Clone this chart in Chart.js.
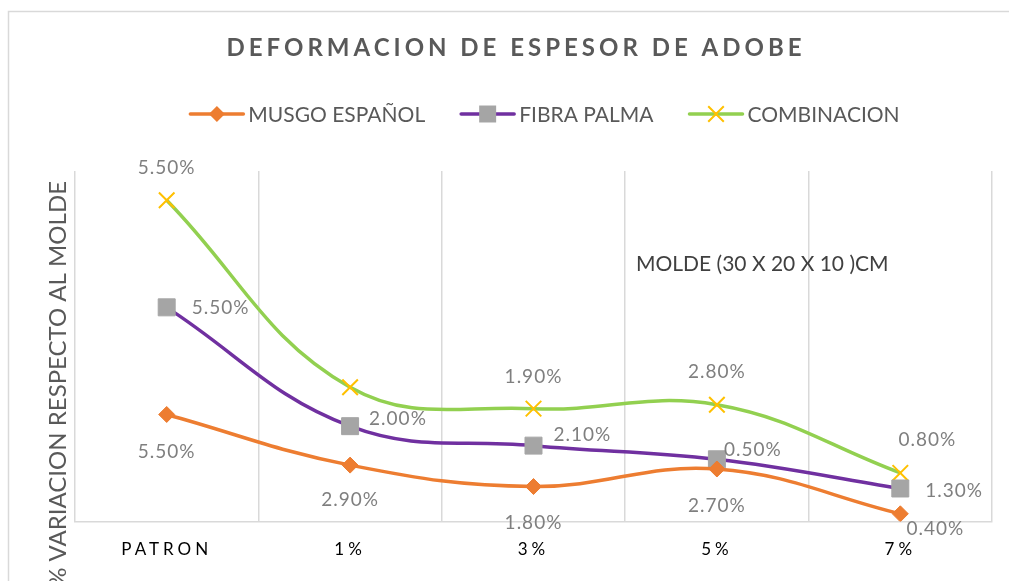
<!DOCTYPE html>
<html>
<head>
<meta charset="utf-8">
<title>Deformacion de espesor de adobe</title>
<script src="https://cdn.jsdelivr.net/npm/chart.js@4/dist/chart.umd.min.js"></script>
<style>
  html, body { margin: 0; padding: 0; background: #fff; overflow: hidden; }
  #wrap { width: 1009px; height: 581px; }
  canvas { display: block; }
</style>
</head>
<body>
<div id="wrap"><canvas id="adobeChart" width="1009" height="581"></canvas></div>
<script>
// Data (values in %, stacked like the Excel original)
const categories = ['PATRON', '1%', '3%', '5%', '7%'];
const musgoEspanol = [5.5, 2.9, 1.8, 2.7, 0.4];
const fibraPalma = [5.5, 2.0, 2.1, 0.5, 1.3];
const combinacion = [5.5, 2.0, 1.9, 2.8, 0.8];

const chartTitle = 'DEFORMACION DE ESPESOR DE ADOBE';
const yTitle = '% VARIACION RESPECTO AL MOLDE';
const note = 'MOLDE (30 X 20 X 10 )CM';

const FONT = 'Lato, "Open Sans", sans-serif';

// where each series puts its value labels (dx, dy from the point, alignment)
const labelStyle = [
  { align: 'center', offsets: [[0, 37], [0, 35], [0, 36], [0, 37], [35, 15]] },
  { align: 'left', offsets: [[25, 1], [19, -7], [20, -11], [7, -9], [25, 2]] },
  { align: 'center', offsets: [[0, -32], null, [0, -32], [0, -33], [27, -33]] }
];

// legend markers (the plot markers come from Chart.js itself)
function drawMark(ctx, style, x, y, r) {
  ctx.beginPath();
  if (style === 'rectRot') {
    ctx.moveTo(x - r, y); ctx.lineTo(x, y - r); ctx.lineTo(x + r, y); ctx.lineTo(x, y + r);
    ctx.closePath(); ctx.fill();
  } else if (style === 'rect') {
    const s = r * Math.SQRT1_2;
    ctx.fillRect(x - s, y - s, 2 * s, 2 * s);
  } else {
    const s = r * Math.SQRT1_2;
    ctx.moveTo(x - s, y - s); ctx.lineTo(x + s, y + s);
    ctx.moveTo(x + s, y - s); ctx.lineTo(x - s, y + s);
    ctx.stroke();
  }
}

const extras = {
  id: 'extras',
  beforeDraw(chart) {
    const ctx = chart.ctx;
    ctx.save();
    ctx.fillStyle = '#fff';
    ctx.fillRect(0, 0, chart.width, chart.height);
    // outer chart border, cut off at the right and bottom like the reference
    ctx.strokeStyle = '#d9d9d9';
    ctx.lineWidth = 1.5;
    ctx.beginPath();
    ctx.moveTo(8.5, chart.height);
    ctx.lineTo(8.5, 11.5);
    ctx.lineTo(chart.width, 11.5);
    ctx.stroke();
    ctx.restore();
  },
  afterDatasetsDraw(chart) {
    // x tick labels are drawn in a later layer; give them Excel-like spacing
    chart.ctx.letterSpacing = '4px';
  },
  afterDraw(chart) {
    const ctx = chart.ctx;
    ctx.letterSpacing = '0px';
    ctx.save();

    // title
    ctx.font = 'bold 24px ' + FONT;
    ctx.fillStyle = '#595959';
    ctx.letterSpacing = '4px';
    ctx.textBaseline = 'middle';
    ctx.textAlign = 'left';
    let w = ctx.measureText(chartTitle).width;
    ctx.fillText(chartTitle, 514 - w / 2 + 2, 48);
    ctx.letterSpacing = '0px';

    // legend
    const items = chart.data.datasets;
    ctx.font = '21px ' + FONT;
    const lineW = 53, gap = 5, itemGap = 36;
    let total = 0;
    items.forEach((ds, i) => {
      total += lineW + gap + ctx.measureText(ds.label).width + (i ? itemGap : 0);
    });
    let x = 545 - total / 2;
    const ly = 114;
    items.forEach(ds => {
      ctx.strokeStyle = ds.borderColor;
      ctx.lineWidth = ds.borderWidth;
      ctx.lineCap = 'round';
      ctx.beginPath();
      ctx.moveTo(x, ly);
      ctx.lineTo(x + lineW, ly);
      ctx.stroke();
      ctx.lineCap = 'butt';
      ctx.fillStyle = ds.pointBackgroundColor;
      ctx.strokeStyle = ds.pointBorderColor;
      ctx.lineWidth = ds.pointBorderWidth;
      drawMark(ctx, ds.pointStyle, x + lineW / 2, ly, ds.pointRadius);
      ctx.fillStyle = '#595959';
      ctx.textAlign = 'left';
      ctx.fillText(ds.label, x + lineW + gap, ly + 1);
      x += lineW + gap + ctx.measureText(ds.label).width + itemGap;
    });

    // value labels
    ctx.font = '19px ' + FONT;
    ctx.letterSpacing = '1px';
    ctx.fillStyle = '#7f7f7f';
    items.forEach((ds, di) => {
      const meta = chart.getDatasetMeta(di);
      const st = labelStyle[di];
      meta.data.forEach((pt, i) => {
        const off = st.offsets[i];
        if (!off) return;
        ctx.textAlign = st.align;
        ctx.fillText(ds.data[i].toFixed(2) + '%', pt.x + off[0], pt.y + off[1]);
      });
    });
    ctx.letterSpacing = '0px';

    // note inside the plot
    ctx.font = '21px ' + FONT;
    ctx.fillStyle = '#404040';
    ctx.textAlign = 'left';
    ctx.fillText(note, 636, 264);

    // y axis title, anchored at its top end
    ctx.translate(58, 181);
    ctx.rotate(-Math.PI / 2);
    ctx.font = '24px ' + FONT;
    ctx.fillStyle = '#595959';
    ctx.textAlign = 'right';
    ctx.fillText(yTitle, 0, 0);
    ctx.restore();
  }
};

new Chart(document.getElementById('adobeChart'), {
  type: 'line',
  data: {
    labels: categories,
    datasets: [
      {
        label: 'MUSGO ESPAÑOL',
        data: musgoEspanol,
        borderColor: '#ED7D31',
        borderWidth: 3.5,
        pointStyle: 'rectRot',
        pointRadius: 8,
        pointHoverRadius: 8,
        pointBackgroundColor: '#ED7D31',
        pointBorderColor: '#ED7D31',
        pointBorderWidth: 1,
        tension: 0.4
      },
      {
        label: 'FIBRA PALMA',
        data: fibraPalma,
        borderColor: '#7030A0',
        borderWidth: 3.5,
        pointStyle: 'rect',
        pointRadius: 12,
        pointHoverRadius: 12,
        pointBackgroundColor: '#A5A5A5',
        pointBorderColor: '#A5A5A5',
        pointBorderWidth: 1,
        tension: 0.4
      },
      {
        label: 'COMBINACION',
        data: combinacion,
        borderColor: '#92D050',
        borderWidth: 3.5,
        pointStyle: 'crossRot',
        pointRadius: 11,
        pointHoverRadius: 11,
        pointBackgroundColor: '#FFC000',
        pointBorderColor: '#FFC000',
        pointBorderWidth: 2,
        tension: 0.4
      }
    ]
  },
  options: {
    responsive: false,
    animation: false,
    layout: { padding: { left: 75, right: 17, top: 171, bottom: 3 } },
    plugins: {
      legend: { display: false },
      title: { display: false },
      tooltip: { enabled: false }
    },
    scales: {
      x: {
        offset: true,
        grid: { offset: true, color: '#d9d9d9', lineWidth: 1.5, drawTicks: false },
        border: { color: '#d9d9d9', width: 1.5 },
        ticks: {
          z: 1,
          color: '#000',
          padding: 18,
          font: { family: FONT, size: 17 }
        }
      },
      y: {
        stacked: true,
        display: false,
        min: 0,
        max: 18
      }
    }
  },
  plugins: [extras]
});
</script>
</body>
</html>
